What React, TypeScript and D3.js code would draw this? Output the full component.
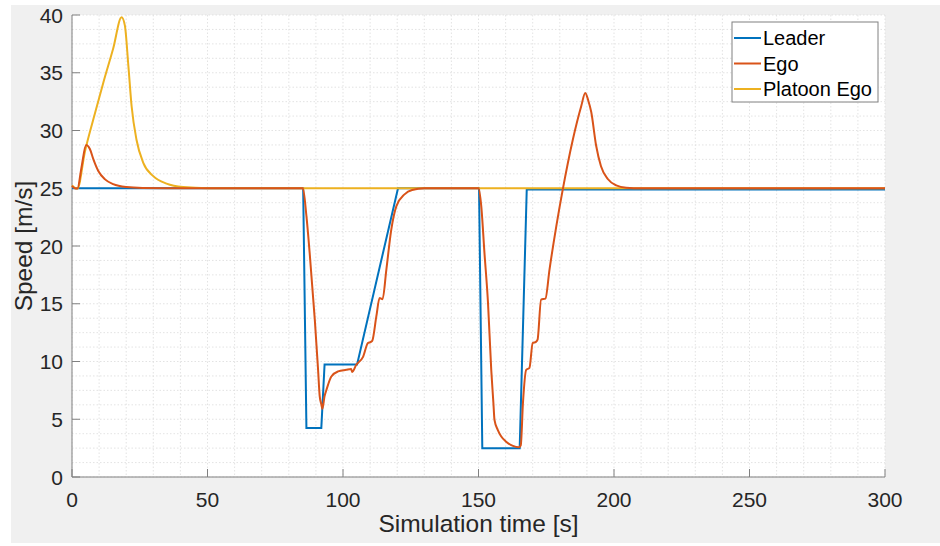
import React from "react";
import * as d3 from "d3";

const leaderT = [0, 85.3, 86.5, 92.0, 93.2, 105.2, 120.3, 150.2, 151.4, 165.2, 167.8, 300];
const leaderV = [25, 25, 4.25, 4.25, 9.75, 9.75, 25, 25, 2.5, 2.5, 24.9, 24.9];

const egoT = [0, 1.0, 2.0, 3.5, 5.2, 6.6, 7.9, 9.7, 12.2, 15.2, 20, 26, 35, 85.2, 86.5, 87.7, 89.6, 90.8, 91.4, 92.0, 92.4, 93.2, 93.9, 95.7, 98.2, 101.2, 103.0, 103.4, 104.9, 107.4, 109.2, 110.3, 110.8, 112.3, 113.5, 114.6, 116.0, 117.8, 119.7, 122.7, 125.5, 130, 150, 151.0, 152.2, 153.5, 154.7, 155.5, 155.9, 157.1, 158.4, 160.2, 162.7, 164.9, 165.6, 166.4, 167.6, 168.8, 170.0, 171.2, 171.8, 173.1, 174.7, 176.2, 178.7, 181.1, 184.8, 187.9, 189.4, 190.5, 191.6, 193.4, 195.2, 197.7, 200.8, 204.5, 210, 300];
const egoV = [25.2, 25.0, 24.97, 26.8, 28.75, 28.4, 27.5, 26.5, 25.77, 25.35, 25.1, 25.02, 25, 25, 22.6, 19.4, 13.6, 9.3, 7.0, 6.3, 5.9, 7.0, 7.55, 8.7, 9.14, 9.28, 9.35, 9.1, 9.72, 10.4, 11.6, 11.7, 11.8, 13.9, 15.5, 15.4, 17.96, 21.4, 23.45, 24.47, 24.85, 24.99, 25, 23.5, 19.4, 15.1, 9.3, 6.4, 4.95, 4.08, 3.5, 3.06, 2.69, 2.58, 2.75, 6.4, 9.28, 9.45, 11.6, 11.7, 11.9, 15.36, 15.45, 17.96, 21.7, 24.9, 29.2, 32.1, 33.25, 32.6, 31.6, 28.7, 26.9, 25.8, 25.25, 25.05, 25, 25];

const platoonT = [0, 1.1, 2.0, 4.8, 7.9, 11.5, 15.2, 18.3, 19.5, 20.8, 22.0, 23.8, 26.3, 30.0, 34.9, 41, 50, 300];
const platoonV = [25.25, 25.02, 24.97, 28.2, 31.0, 34.1, 37.1, 39.8, 39.1, 35.6, 32.1, 29.2, 27.2, 26.05, 25.4, 25.1, 25.0, 25.0];

const seriesNames = ["Leader", "Ego", "Platoon Ego"];
const seriesColors = ["#0072BD", "#D95319", "#EDB120"];
const xTicks = [0, 50, 100, 150, 200, 250, 300];
const yTicks = [0, 5, 10, 15, 20, 25, 30, 35, 40];

const W = 940, H = 546;
const L = 72, R = 885, T = 15, B = 477;

export default function App() {
  const x = d3.scaleLinear().domain([0, 300]).range([L, R]);
  const y = d3.scaleLinear().domain([0, 40]).range([B, T]);
  const mk = (ts: number[], vs: number[]) => ts.map((t, i) => [t, vs[i]] as [number, number]);
  const lineLin = d3.line<[number, number]>().x(d => x(d[0])).y(d => y(d[1]));
  const lineSm = d3.line<[number, number]>().x(d => x(d[0])).y(d => y(d[1])).curve(d3.curveMonotoneX);
  const data = [mk(leaderT, leaderV), mk(egoT, egoV), mk(platoonT, platoonV)];
  const xMinor = d3.range(0, 301, 10);
  const yMinor = d3.range(0, 40.01, 1.25);
  const font = "'Liberation Sans', Arial, Helvetica, sans-serif";
  const txt = "#262626";
  const legX = 732, legY = 22, legW = 146, legH = 80;
  return (
    <svg width={W} height={H} style={{ position: "absolute", left: 0, top: 0, background: "#fff" }} fontFamily={font}>
      <rect x={11} y={5} width={W - 11} height={538} fill="#f0f0f0" />
      <rect x={L} y={T} width={R - L} height={B - T} fill="#fff" />
      {xMinor.map(v => (
        <line key={"xm" + v} x1={x(v)} x2={x(v)} y1={T} y2={B} stroke="#dcdcdc" strokeWidth={0.8} strokeDasharray="1.5,2" />
      ))}
      {yMinor.map(v => (
        <line key={"ym" + v} x1={L} x2={R} y1={y(v)} y2={y(v)} stroke="#dcdcdc" strokeWidth={0.8} strokeDasharray="1.5,2" />
      ))}
      <line x1={L} x2={L} y1={T} y2={B} stroke="#808080" strokeWidth={1} />
      <line x1={L} x2={R} y1={B} y2={B} stroke="#808080" strokeWidth={1} />
      {xTicks.map(v => (
        <g key={"xt" + v}>
          <line x1={x(v)} x2={x(v)} y1={B} y2={B - 8} stroke="#808080" />
          <text x={x(v)} y={507} textAnchor="middle" fontSize={21} fill={txt}>{v}</text>
        </g>
      ))}
      {yTicks.map(v => (
        <g key={"yt" + v}>
          <line x1={L} x2={L + 8} y1={y(v)} y2={y(v)} stroke="#808080" />
          <text x={63} y={y(v) + 7.5} textAnchor="end" fontSize={21} fill={txt}>{v}</text>
        </g>
      ))}
      <text x={(L + R) / 2} y={532} textAnchor="middle" fontSize={24.5} fill={txt}>Simulation time [s]</text>
      <text transform={`translate(32,${(T + B) / 2}) rotate(-90)`} textAnchor="middle" fontSize={24.5} fill={txt}>Speed [m/s]</text>
      <g>
        <path d={lineLin(data[0]) || ""} fill="none" stroke={seriesColors[0]} strokeWidth={2} />
        <path d={lineSm(data[2]) || ""} fill="none" stroke={seriesColors[2]} strokeWidth={2} />
        <path d={lineSm(data[1]) || ""} fill="none" stroke={seriesColors[1]} strokeWidth={2} />
      </g>
      <rect x={legX} y={legY} width={legW} height={legH} fill="#fff" stroke="#808080" strokeWidth={1} />
      {seriesNames.map((n, i) => {
        const cy = legY + 16 + i * 25.5;
        return (
          <g key={n}>
            <line x1={legX + 2} x2={legX + 29} y1={cy} y2={cy} stroke={seriesColors[i]} strokeWidth={2} />
            <text x={legX + 31} y={cy + 7} fontSize={20} fill="#000">{n}</text>
          </g>
        );
      })}
    </svg>
  );
}
